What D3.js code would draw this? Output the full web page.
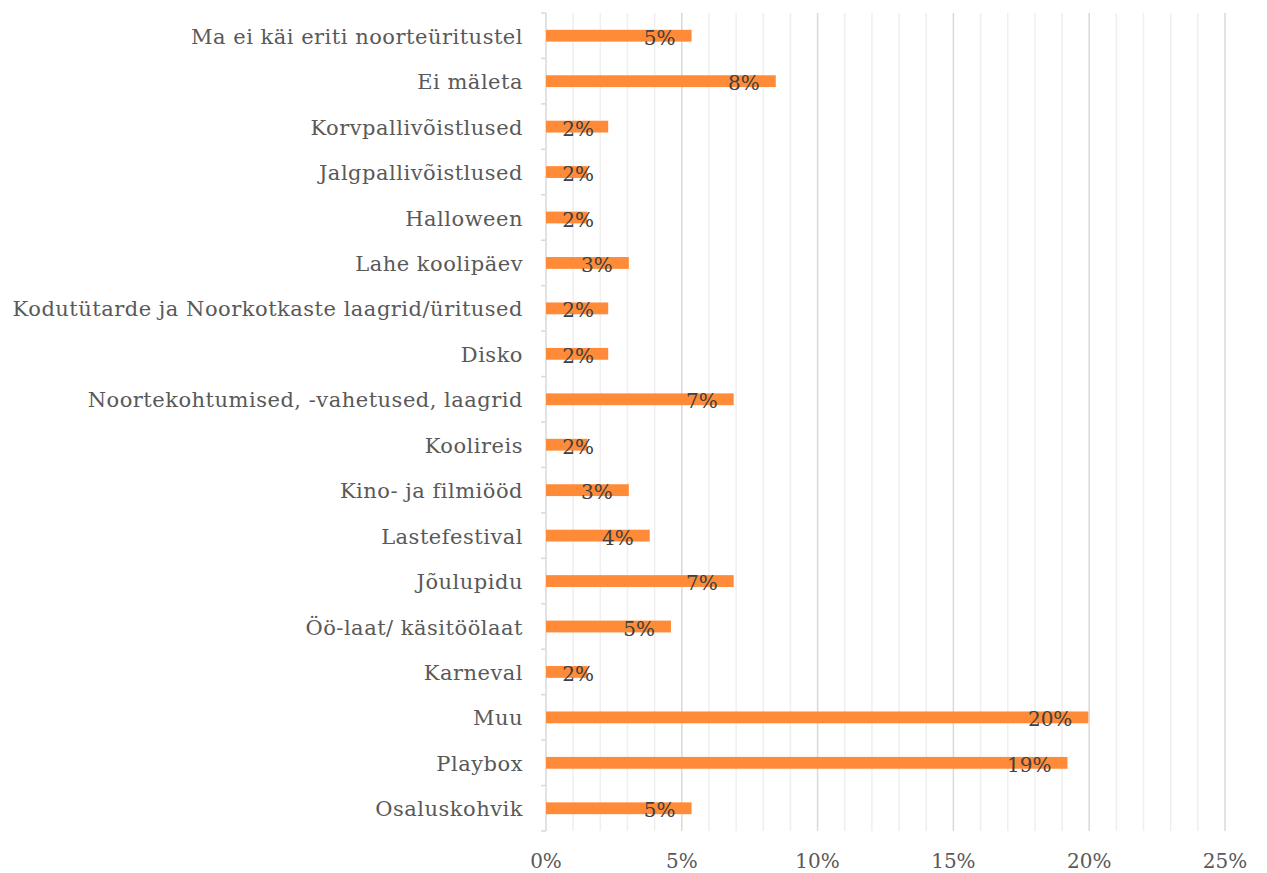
<!DOCTYPE html>
<html>
<head>
<meta charset="utf-8">
<script src="https://cdn.jsdelivr.net/npm/d3@7"></script>
<style>
  body { margin: 0; background: #fff; }
  svg text { font-family: "DejaVu Serif", "Liberation Serif", serif; }
</style>
</head>
<body>
<div id="chart"></div>
<script>
// categories top to bottom
var categories = [
    "Ma ei käi eriti noorteüritustel",
    "Ei mäleta",
    "Korvpallivõistlused",
    "Jalgpallivõistlused",
    "Halloween",
    "Lahe koolipäev",
    "Kodutütarde ja Noorkotkaste laagrid/üritused",
    "Disko",
    "Noortekohtumised, -vahetused, laagrid",
    "Koolireis",
    "Kino- ja filmiööd",
    "Lastefestival",
    "Jõulupidu",
    "Öö-laat/ käsitöölaat",
    "Karneval",
    "Muu",
    "Playbox",
    "Osaluskohvik"
];
var values = [5.36, 8.46, 2.29, 1.52, 1.52, 3.05, 2.29, 2.29, 6.91, 1.52, 3.05, 3.82, 6.91, 4.6, 1.52, 19.97, 19.2, 5.36];
var valueLabels = ["5%", "8%", "2%", "2%", "2%", "3%", "2%", "2%", "7%", "2%", "3%", "4%", "7%", "5%", "2%", "20%", "19%", "5%"];
var xTicks = [0, 5, 10, 15, 20, 25];
var minorTicks = d3.range(0, 26, 1);

var width = 1267, height = 873;
var margin = {top: 13, right: 42, bottom: 42, left: 546};
var innerW = width - margin.left - margin.right;
var innerH = height - margin.top - margin.bottom;

var data = categories.map(function(c, i) {
    return {cat: c, value: values[i], label: valueLabels[i]};
});

var x = d3.scaleLinear().domain([0, 25]).range([0, innerW]);
var y = d3.scaleBand().domain(categories).range([0, innerH]).paddingInner(0.74).paddingOuter(0.37);
var yTicks = d3.scaleBand().domain(categories).range([0, innerH]);

var svg = d3.select("#chart").append("svg")
    .attr("width", width)
    .attr("height", height)
    .append("g")
    .attr("transform", "translate(" + margin.left + "," + margin.top + ")");

// minor gridlines
svg.append("g")
    .selectAll("line")
    .data(minorTicks.filter(function(d) { return d % 5 !== 0; }))
    .enter().append("line")
    .attr("x1", function(d) { return x(d); })
    .attr("x2", function(d) { return x(d); })
    .attr("y1", 0)
    .attr("y2", innerH)
    .attr("stroke", "#efefef")
    .attr("stroke-width", 1.5);

// major gridlines
svg.append("g")
    .selectAll("line")
    .data(xTicks.filter(Number))
    .enter().append("line")
    .attr("x1", function(d) { return x(d); })
    .attr("x2", function(d) { return x(d); })
    .attr("y1", 0)
    .attr("y2", innerH)
    .attr("stroke", "#d9d9d9")
    .attr("stroke-width", 1.5);

// y axis line and tick marks (ticks between categories)
svg.append("line")
    .attr("x1", 0).attr("x2", 0)
    .attr("y1", 0).attr("y2", innerH)
    .attr("stroke", "#d9d9d9")
    .attr("stroke-width", 1.5);

svg.append("g")
    .selectAll("line")
    .data(categories.concat(["__end"]))
    .enter().append("line")
    .attr("x1", -5).attr("x2", 0)
    .attr("y1", function(d, i) { return i * yTicks.step(); })
    .attr("y2", function(d, i) { return i * yTicks.step(); })
    .attr("stroke", "#d9d9d9")
    .attr("stroke-width", 1.5);

// category labels
svg.append("g")
    .selectAll("text")
    .data(data)
    .enter().append("text")
    .attr("x", -23)
    .attr("y", function(d) { return y(d.cat) + y.bandwidth() / 2 + 8; })
    .attr("text-anchor", "end")
    .attr("fill", "#595959")
    .style("font-size", "21px")
    .style("letter-spacing", "0.5px")
    .text(function(d) { return d.cat; });

// bars
svg.append("g")
    .selectAll("rect")
    .data(data)
    .enter().append("rect")
    .attr("x", x(0))
    .attr("y", function(d) { return y(d.cat); })
    .attr("width", function(d) { return x(d.value) - x(0); })
    .attr("height", y.bandwidth())
    .attr("fill", "#ff8b38");

// data labels, inside end
svg.append("g")
    .selectAll("text")
    .data(data)
    .enter().append("text")
    .attr("x", function(d) { return Math.max(x(d.value) - 16, x(0) + 48); })
    .attr("y", function(d) { return y(d.cat) + y.bandwidth() / 2 + 9; })
    .attr("text-anchor", "end")
    .attr("fill", "#404040")
    .style("font-size", "20px")
    .text(function(d) { return d.label; });

// x axis labels
svg.append("g")
    .selectAll("text")
    .data(xTicks)
    .enter().append("text")
    .attr("x", function(d) { return x(d); })
    .attr("y", innerH + 37)
    .attr("text-anchor", "middle")
    .attr("fill", "#595959")
    .style("font-size", "20px")
    .text(function(d) { return d + "%"; });
</script>
</body>
</html>
